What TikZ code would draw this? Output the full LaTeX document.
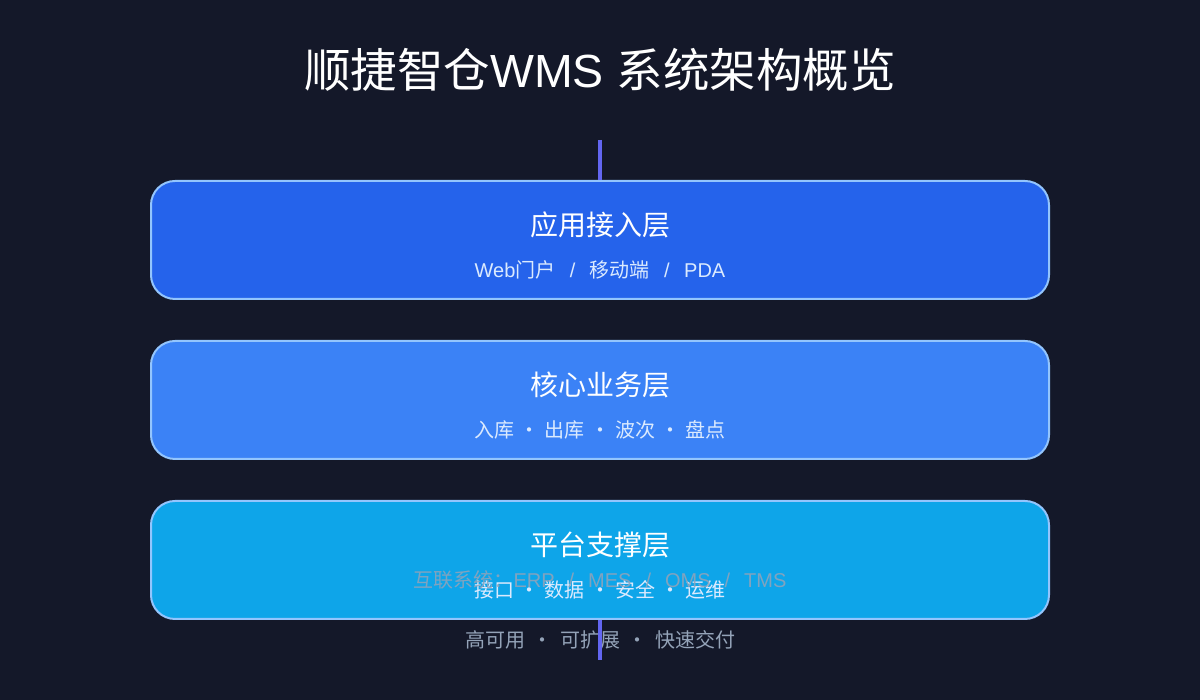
\documentclass[tikz,border=0pt]{standalone}
\usepackage{fontspec}
\setmainfont{Noto Sans CJK SC}
\newfontfamily\lat{Liberation Sans}
\definecolor{bg}{HTML}{141829}
\definecolor{edgec}{HTML}{93C5FD}
\definecolor{boxa}{HTML}{2563EB}
\definecolor{boxb}{HTML}{3B82F6}
\definecolor{boxc}{HTML}{0EA5E9}
\definecolor{subc}{HTML}{DBEAFE}
\definecolor{greyc}{HTML}{94A3B8}
\definecolor{linec}{HTML}{6366F1}
\newcommand\dsep{\hspace{5.3pt}·\hspace{5.3pt}}
\newcommand\fsep{\hspace{7.5pt}·\hspace{7.5pt}}
\newcommand\ssep{\hspace{14.4pt}/\hspace{14.4pt}}
\newcommand\esep{\hspace{14pt}/\hspace{14pt}}
\begin{document}
\begin{tikzpicture}[x=1pt,y=1pt,
  layer/.style={draw=edgec,line width=2pt,rounded corners=24pt,minimum width=898pt,minimum height=118pt,inner sep=0pt},
  ttl/.style={text=white,font=\fontsize{28}{32}\selectfont,inner sep=0pt},
  sub/.style={text=subc,font=\fontsize{20}{24}\selectfont,inner sep=0pt},
  note/.style={text=greyc,font=\fontsize{20}{24}\selectfont,inner sep=0pt},
  conn/.style={linec,line width=3.5pt}]
\fill[bg] (0,0) rectangle (1200,700);
\useasboundingbox (0,0) rectangle (1200,700);
\node[text=white,font=\fontsize{46.5}{52}\selectfont,inner sep=0pt] (title) at (600,630) {顺捷智仓{\lat WMS }系统架构概览};
\node[note] (foot) at (600,60) {高可用\fsep 可扩展\fsep 快速交付};
\coordinate (top) at (600,560);
\coordinate (bot) at (600,40);
\node[layer,fill=boxa] (l1) at (600,460) {};
\node[layer,fill=boxb] (l2) at (600,300) {};
\node[layer,fill=boxc] (l3) at (600,140) {};
\draw[conn] (top) -- (l1.north);
\draw[conn] (l3.south) -- (bot);
\node[ttl] (t1) at (600,475) {应用接入层};
\node[sub] (s1) at (600,430) {{\lat Web}门户{\lat\ssep}移动端{\lat\ssep PDA}};
\node[ttl] (t2) at (600,315) {核心业务层};
\node[sub] (s2) at (600,270) {入库\dsep 出库\dsep 波次\dsep 盘点};
\node[ttl] (t3) at (600,155) {平台支撑层};
\node[sub] (s3) at (600,110) {接口\dsep 数据\dsep 安全\dsep 运维};
\node[note,opacity=0.85] (ext) at (600,120) {互联系统：{\lat ERP\esep MES\esep OMS\esep TMS}};
\end{tikzpicture}
\end{document}
